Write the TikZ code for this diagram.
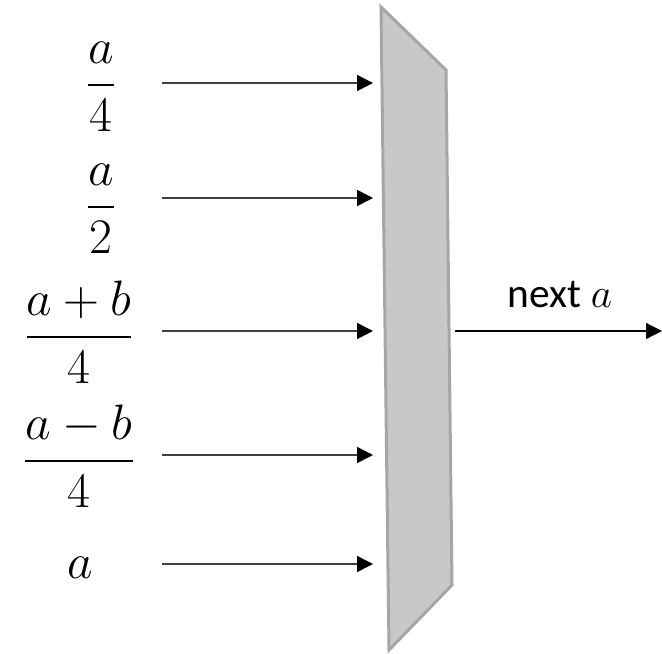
\documentclass[tikz,border=0pt]{standalone}
\usepackage{amsmath}
\usepackage{fontspec}
\setmainfont{Carlito}
\usetikzlibrary{arrows.meta}
\definecolor{muxfill}{RGB}{200,200,200}
\definecolor{muxline}{RGB}{166,166,166}
\definecolor{wire}{RGB}{64,64,64}

\begin{document}
\begin{tikzpicture}[x=0.5pt, y=-0.5pt,
    every node/.style={inner sep=0pt},
    lbl/.style={font=\Huge},
    inwire/.style={draw=wire, line width=0.75pt, -{Triangle[length=8pt, width=8pt, black]}},
    outwire/.style={draw=black, line width=0.6pt, -{Triangle[length=8pt, width=8pt]}}]
  \useasboundingbox (0,0) rectangle (662,653);
  % selector block
  \coordinate (mtl) at (381,7);
  \coordinate (mtr) at (446,70);
  \coordinate (mbr) at (452,585);
  \coordinate (mbl) at (389,650);
  \draw[muxline, fill=muxfill, line width=1.5pt, line join=miter]
    (mtl) -- (mtr) -- (mbr) -- (mbl) -- cycle;
  % inputs
  \node[lbl] (qa) at (101,87)  {$\dfrac{a}{4}$};
  \node[lbl] (ha) at (101,209) {$\dfrac{a}{2}$};
  \node[lbl] (sm) at (79,332)  {$\dfrac{a+b}{4}$};
  \node[lbl] (df) at (79,456)  {$\dfrac{a-b}{4}$};
  \node[lbl] (aa) at (80,568)  {$a$};
  \foreach \y [count=\i] in {83,198,331,455,564} {
    \coordinate (in\i) at (162,\y);
    \coordinate (mx\i) at (373,\y);
    \draw[inwire] (in\i) -- (mx\i);
  }
  % output
  \coordinate (out0) at (455,331);
  \coordinate (out1) at (662,331);
  \draw[outwire] (out0) -- (out1);
  \node[font=\huge] (nx) at (560,295) {next $a$};
\end{tikzpicture}
\end{document}
